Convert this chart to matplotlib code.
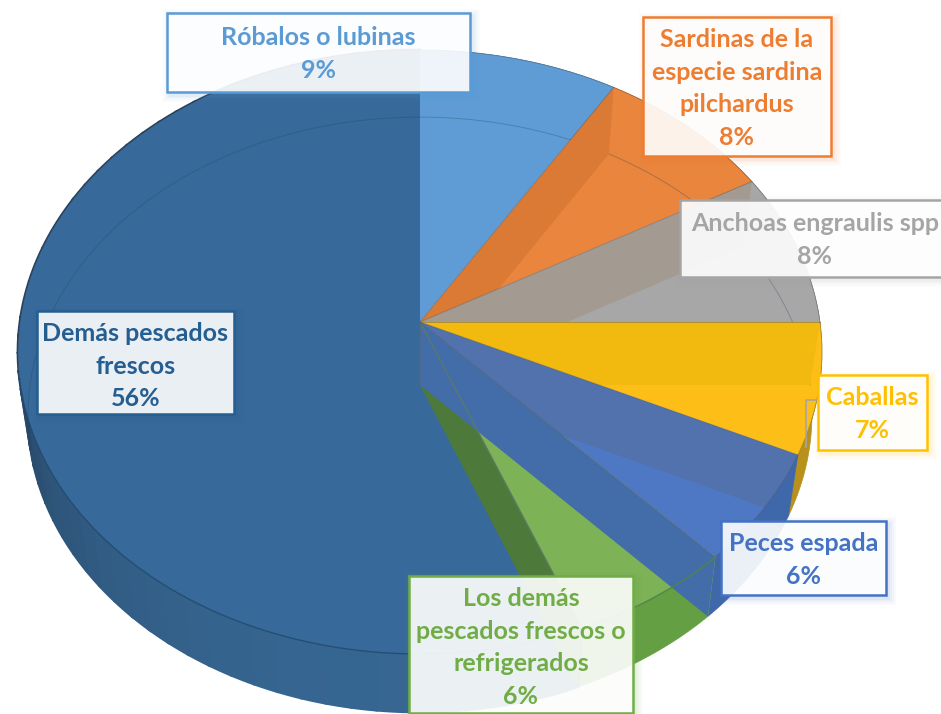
import numpy as np
from matplotlib import pyplot as plt
from matplotlib.patches import Rectangle

# slices, clockwise from twelve o'clock
names = [['Róbalos o lubinas'],
         ['Sardinas de la', 'especie sardina', 'pilchardus'],
         ['Anchoas engraulis spp'],
         ['Caballas'],
         ['Peces espada'],
         ['Los demás', 'pescados frescos o', 'refrigerados'],
         ['Demás pescados', 'frescos']]
values = [8.8, 8.0, 8.2, 7.0, 6.0, 6.0, 56.0]
top_colors = ['#5f9cd5', '#e9853d', '#a7a7a7', '#fdbe17', '#4f78c4', '#7db356', '#376a9a']
side_colors = ['#4f86bb', '#c96f2c', '#8d8d8d', '#b8901c', '#3f68ab', '#659f43', '#33608c']
wall_colors = ['#35689b', '#db7a35', '#a39a92', '#f2b90f', '#5272ad', '#426da8', '#4d7a3a']
text_colors = ['#5b9bd5', '#ed7d31', '#a5a5a5', '#ffc000', '#4472c4', '#70ad47', '#255e91']

# label boxes in figure pixels: left, top, right, bottom, first baseline
boxes = [(167, 13, 470, 92, 45),
         (643, 17, 831, 156, 47),
         (680, 200, 945, 277, 231),
         (818, 375, 927, 450, 405),
         (721, 521, 886, 595, 551),
         (409, 576, 633, 713, 606),
         (37, 311, 234, 414, 341)]
line_step = 32.6

persp = 0.0993
top_face = (420, 322, 400, 299)
low_face = (420, 385, 390, 294.5)


def project(frac, face):
    cx, cy, a, b = face
    t = 2 * np.pi * np.asarray(frac)
    den = 1 + persp * np.cos(t)
    return cx + a * np.sin(t) / den, cy - b * np.cos(t) / den


def arc(f0, f1, face):
    return project(np.linspace(f0, f1, 120), face)


def wall(f):
    # straight inner wall of the slice border at fraction f
    x0, y0 = project(f, top_face)
    x1, y1 = project(f, low_face)
    return [top_face[0], x0, x1, low_face[0]], [top_face[1], y0, y1, low_face[1]]


plt.rcParams['font.family'] = ['Lato', 'DejaVu Sans']
fig = plt.figure(figsize=(9.41, 7.14), dpi=100)
ax = fig.add_axes([0, 0, 1, 1])
ax.set_xlim(0, 941)
ax.set_ylim(714, 0)
ax.axis('off')

fracs = np.array(values) / sum(values)
starts = np.concatenate([[0], np.cumsum(fracs)[:-1]])
ends = np.cumsum(fracs)

# outer side, drawn first so the top face covers most of it
for i in range(len(values)):
    if i == 6:
        edges = np.linspace(starts[i], ends[i], 60)
        for a0, a1 in zip(edges[:-1], edges[1:]):
            tx, ty = arc(a0, a1, top_face)
            lx, ly = arc(a1, a0, low_face)
            shade = min(1, max(0, (a0 - 0.5) / 0.24)) ** 2
            col = np.array([0.21, 0.40, 0.57]) * (1 - shade) + np.array([0.15, 0.26, 0.38]) * shade
            ax.fill(np.r_[tx, lx], np.r_[ty, ly], color=col, lw=2, zorder=1)
    else:
        tx, ty = arc(starts[i], ends[i], top_face)
        lx, ly = arc(ends[i], starts[i], low_face)
        ax.fill(np.r_[tx, lx], np.r_[ty, ly], color=side_colors[i], lw=0.5, zorder=1)

# top face of every slice
wedges = []
for i in range(len(values)):
    tx, ty = arc(starts[i], ends[i], top_face)
    xs = np.r_[top_face[0], tx]
    ys = np.r_[top_face[1], ty]
    wedges.append(ax.fill(xs, ys, color=top_colors[i], lw=0, zorder=2)[0])

# faint lower rim seen through the top
lx, ly = arc(0.72, 1.25, low_face)
ax.plot(lx, ly, color='#20405f', lw=0.7, alpha=0.3, zorder=3)

# inner walls, clipped to the slice in front of them
for i in [1, 2, 3, 4]:
    wx, wy = wall(starts[i])
    p = ax.fill(wx, wy, color=wall_colors[i], lw=0, zorder=4)[0]
    p.set_clip_path(wedges[i])

# the two walls at the bottom hang over the side
wx, wy = wall(ends[5])
ax.fill(wx, wy, color=wall_colors[6], lw=0, zorder=4)
wx, wy = wall(starts[5])
ax.fill(wx, wy, color=wall_colors[5], lw=0, zorder=5)
ex, ey = project(ends[5], top_face)
ax.plot([top_face[0], ex], [top_face[1], ey], color='#5f8f6a', lw=1, alpha=0.8, zorder=5)

# slice borders and rim lines
for i in range(len(values) - 1):
    ex, ey = project(ends[i], top_face)
    ax.plot([top_face[0], ex], [top_face[1], ey], color='#5a5a5a', lw=0.7, alpha=0.45, zorder=6)
ax.plot([top_face[0], low_face[0]], [top_face[1], low_face[1]], color='#5a6a7a', lw=0.8, alpha=0.6, zorder=6)
tx, ty = arc(0, 1, top_face)
ax.plot(tx, ty, color='#3a3a3a', lw=0.6, alpha=0.35, zorder=6)
tx, ty = arc(starts[5], ends[5], top_face)
ax.plot(tx, ty, color='#4f8a4a', lw=1.2, alpha=0.8, zorder=6)
tx, ty = arc(ends[5], 0.72, top_face)
ax.plot(tx, ty, color='#1f4a72', lw=1, alpha=0.7, zorder=6)

# leader of the grey label, it runs behind the yellow box
ax.plot([818, 806, 806], [400, 400, 447], color='#a5a5a5', lw=1.2, zorder=7)

# label boxes
for i, (l, t, r, b, base) in enumerate(boxes):
    for grow, alpha in [(7, 0.03), (5, 0.04), (3, 0.05), (1.5, 0.06)]:
        ax.add_patch(Rectangle((l + 3 - grow, t + 3 - grow), r - l + 2 * grow, b - t + 2 * grow,
                               fc=text_colors[i], ec='none', alpha=alpha, zorder=8))
    ax.add_patch(Rectangle((l, t), r - l, b - t, fc='white', ec='none', alpha=0.9, zorder=9))
    ax.add_patch(Rectangle((l, t), r - l, b - t, fc='none', ec=text_colors[i], lw=1.8, zorder=10))
    lines = names[i] + ['{}%'.format(round(values[i]))]
    cx = (l + r) / 2 if i != 2 else 815
    for n, line in enumerate(lines):
        ax.text(cx, base + n * line_step, line, color=text_colors[i], fontsize=18, fontweight='bold',
                ha='center', va='baseline', zorder=11)

plt.savefig('out.png', dpi=100)
